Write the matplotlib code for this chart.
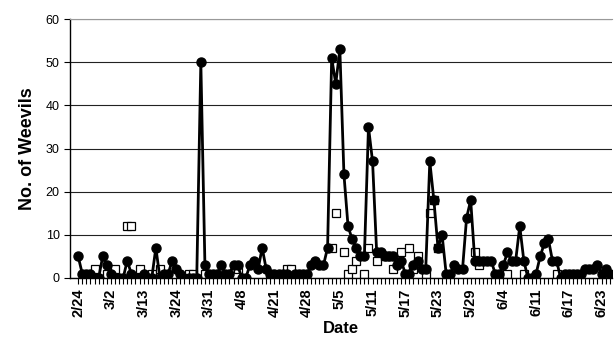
import numpy as np
import matplotlib.pyplot as plt

plt.rcParams['font.family'] = ['Liberation Sans', 'DejaVu Sans']

# tick labels, shown every 8th sample
date_labels = ['2/24', '3/2', '3/13', '3/24', '3/31', '4/8', '4/21', '4/28', '5/5',
               '5/11', '5/17', '5/23', '5/29', '6/4', '6/11', '6/17', '6/23']
label_step = 8

# main series (line + filled circles), one value per sample
weevils = [5, 1, 1, 1, 0, 0, 5, 3, 1, 0,
           0, 0, 4, 1, 0, 0, 1, 0, 0, 7,
           0, 1, 1, 4, 2, 1, 0, 0, 0, 0,
           50, 3, 1, 1, 1, 3, 1, 1, 3, 3,
           0, 0, 3, 4, 2, 7, 2, 1, 1, 1,
           1, 1, 0, 1, 1, 1, 1, 3, 4, 3,
           3, 7, 51, 45, 53, 24, 12, 9, 7, 5,
           5, 35, 27, 6, 6, 5, 5, 5, 3, 4,
           1, 1, 3, 4, 2, 2, 27, 18, 7, 10,
           1, 1, 3, 2, 2, 14, 18, 4, 4, 4,
           4, 4, 1, 1, 3, 6, 4, 4, 12, 4,
           0, 0, 1, 5, 8, 9, 4, 4, 0, 1,
           1, 1, 1, 1, 2, 2, 2, 3, 1, 2,
           1]

# open squares (markers only)
open_idx = [4, 7, 9, 12, 13, 15, 18, 20, 27, 28, 31, 39, 47, 51, 52,
            62, 63, 65, 66, 67, 68, 70, 71, 73, 77, 79, 81, 82, 83, 85,
            86, 97, 98, 105, 109, 117]
open_val = [2, 1, 2, 12, 12, 2, 1, 2, 1, 1, 1, 2, 1, 2, 2,
            7, 15, 6, 1, 2, 4, 1, 7, 4, 2, 6, 7, 2, 5, 1,
            15, 6, 3, 1, 1, 1]

# filled squares
filled_idx = [75, 76, 87, 88]
filled_val = [5, 5, 18, 7]

n = len(weevils)
x = np.arange(n)

fig = plt.figure(figsize=(6.14, 3.53), dpi=100)
ax = fig.add_axes([0.114, 0.2125, 0.883, 0.7335])

ax.plot(open_idx, open_val, linestyle='none', marker='s', ms=6,
        mfc='white', mec='black', mew=0.9, zorder=2)
ax.plot(x, weevils, color='black', lw=2, marker='o', ms=6.5, zorder=3)
ax.plot(filled_idx, filled_val, linestyle='none', marker='s', ms=6,
        mfc='black', mec='black', zorder=4)

ax.set_xlim(-2, n - 0.4)
ax.set_ylim(0, 60)
ax.set_yticks(range(0, 61, 10))
ax.yaxis.grid(True, color='#222222', lw=0.8)
ax.set_axisbelow(True)

ax.set_xticks(x, minor=True)
ax.set_xticks(np.arange(0, n, label_step)[:len(date_labels)])
ax.set_xticklabels(date_labels, rotation=90, fontweight='bold', fontsize=10.5)
ax.tick_params(axis='x', which='both', length=4, width=0.8, direction='out')
ax.tick_params(axis='y', length=4, width=0.8, labelsize=9)

ax.spines['right'].set_visible(False)
ax.spines['top'].set_color('#999999')
ax.spines['left'].set_linewidth(1)
ax.spines['bottom'].set_linewidth(1)

ax.set_ylabel('No. of Weevils', fontweight='bold', fontsize=13, labelpad=7)
ax.set_xlabel('Date', fontweight='bold', fontsize=12, labelpad=3)

fig.savefig('out.png', dpi=100)
